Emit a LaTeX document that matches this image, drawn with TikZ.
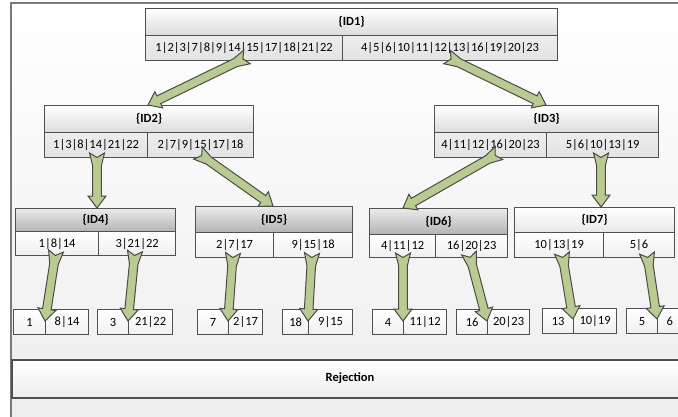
\documentclass[tikz,border=0pt]{standalone}
\usepackage{fontspec}
\setmainfont{Carlito}
\usetikzlibrary{calc}

\definecolor{boxline}{HTML}{505050}
\definecolor{frameline}{HTML}{7A7A7A}
\definecolor{arrowfill}{HTML}{B9CC8F}
\definecolor{arrowline}{HTML}{4A4A4A}

% block arrow with a flared, notched tail: #1 tail, #2 tip
\newcommand\blockarrow[2]{%
  \filldraw[blockarr]
    ($(#1)!4.5pt!(#2)$)
    -- ($(#1)!7.5pt!90:(#2)$)
    -- ($(#1)!13pt!(#2)!4.3pt!90:(#2)$)
    -- ($(#2)!12pt!(#1)!4.3pt!-90:(#1)$)
    -- ($(#2)!12pt!(#1)!9pt!-90:(#1)$)
    -- (#2)
    -- ($(#2)!12pt!(#1)!9pt!90:(#1)$)
    -- ($(#2)!12pt!(#1)!4.3pt!90:(#1)$)
    -- ($(#1)!13pt!(#2)!4.3pt!-90:(#2)$)
    -- ($(#1)!7.5pt!-90:(#2)$)
    -- cycle;}

\begin{document}
\begin{tikzpicture}[x=1pt,y=-1pt,
  font=\fontsize{12.5}{14}\selectfont,
  cell/.style={draw=boxline, line width=1.2pt, inner sep=0pt, anchor=north west},
  hdrlight/.style={cell, top color=white, bottom color=black!14, font=\fontsize{12.5}{14}\selectfont\bfseries},
  hdrdark/.style={cell, top color=black!8, bottom color=black!30, font=\fontsize{12.5}{14}\selectfont\bfseries},
  hdrwhite/.style={cell, top color=white, bottom color=black!9, font=\fontsize{12.5}{14}\selectfont\bfseries},
  rowgray/.style={cell, top color=black!7, bottom color=black!11},
  rowwhite/.style={cell, top color=white, bottom color=black!6},
  leaf/.style={cell, top color=white, bottom color=black!6, minimum height=25pt},
  blockarr/.style={fill=arrowfill, draw=arrowline, line width=1pt, line join=miter},
]
\useasboundingbox (0,0) rectangle (678,416);
\clip (0,0) rectangle (678,416);

% outer frame
\path[top color=white, bottom color=black!7, draw=frameline, line width=1.2pt]
  (11,3) rectangle (690,430);

% level 1
\node[hdrlight, minimum width=412pt, minimum height=27pt] (id1) at (145,8) {\{ID1\}};
\node[rowgray, minimum width=197pt, minimum height=25pt] (id1l) at (145,35) {1|2|3|7|8|9|14|15|17|18|21|22};
\node[rowgray, minimum width=215pt, minimum height=25pt] (id1r) at (342,35) {4|5|6|10|11|12|13|16|19|20|23};

% level 2
\node[hdrlight, minimum width=209pt, minimum height=27pt] (id2) at (44,105) {\{ID2\}};
\node[rowgray, minimum width=103pt, minimum height=25pt] (id2l) at (44,132) {1|3|8|14|21|22};
\node[rowgray, minimum width=106pt, minimum height=25pt] (id2r) at (147,132) {2|7|9|15|17|18};

\node[hdrlight, minimum width=224pt, minimum height=27pt] (id3) at (434,105) {\{ID3\}};
\node[rowgray, minimum width=112pt, minimum height=25pt] (id3l) at (434,132) {4|11|12|16|20|23};
\node[rowgray, minimum width=112pt, minimum height=25pt] (id3r) at (546,132) {5|6|10|13|19};

% level 3
\node[hdrdark, minimum width=160pt, minimum height=23pt] (id4) at (15,208) {\{ID4\}};
\node[rowwhite, minimum width=83pt, minimum height=24pt] (id4l) at (15,231) {1|8|14};
\node[rowwhite, minimum width=77pt, minimum height=24pt] (id4r) at (98,231) {3|21|22};

\node[hdrdark, minimum width=157pt, minimum height=26pt] (id5) at (195,206) {\{ID5\}};
\node[rowwhite, minimum width=78pt, minimum height=25pt] (id5l) at (195,232) {2|7|17};
\node[rowwhite, minimum width=79pt, minimum height=25pt] (id5r) at (273,232) {9|15|18};

\node[hdrdark, minimum width=138pt, minimum height=26pt] (id6) at (369,208) {\{ID6\}};
\node[rowwhite, minimum width=66pt, minimum height=23pt] (id6l) at (369,234) {4|11|12};
\node[rowwhite, minimum width=72pt, minimum height=23pt] (id6r) at (435,234) {16|20|23};

\node[hdrwhite, minimum width=160pt, minimum height=25pt] (id7) at (514,207) {\{ID7\}};
\node[rowwhite, minimum width=89pt, minimum height=25pt] (id7l) at (514,232) {10|13|19};
\node[rowwhite, minimum width=71pt, minimum height=25pt] (id7r) at (603,232) {5|6};

% leaves
\node[leaf, minimum width=32pt] (l1a) at (13,309) {1};
\node[leaf, minimum width=43pt] (l1b) at (45,309) {8|14};
\node[leaf, minimum width=31pt] (l2a) at (97,309) {3};
\node[leaf, minimum width=44pt] (l2b) at (128,309) {21|22};
\node[leaf, minimum width=31pt] (l3a) at (197,309) {7};
\node[leaf, minimum width=34pt] (l3b) at (228,309) {2|17};
\node[leaf, minimum width=26pt] (l4a) at (282,309) {18};
\node[leaf, minimum width=44pt] (l4b) at (308,309) {9|15};
\node[leaf, minimum width=31pt] (l5a) at (372,309) {4};
\node[leaf, minimum width=43pt] (l5b) at (403,309) {11|12};
\node[leaf, minimum width=31pt] (l6a) at (456,309) {16};
\node[leaf, minimum width=42pt] (l6b) at (487,309) {20|23};
\node[leaf, minimum width=31pt] (l7a) at (542,308) {13};
\node[leaf, minimum width=43pt] (l7b) at (573,308) {10|19};
\node[leaf, minimum width=31pt] (l8a) at (626,308) {5};
\node[leaf, minimum width=43pt, text width=43pt, align=left] (l8b) at (657,308) {\hspace*{9pt}6};

% rejection bar
\node[cell, top color=white, bottom color=black!7, line width=1.5pt,
      minimum width=700pt, minimum height=38pt] (rej) at (11,359) {};
\node[font=\fontsize{12.5}{14}\selectfont\bfseries] (rejtxt) at (350,378) {Rejection};

% arrow end points
\coordinate (t12) at (247,57);  \coordinate (h12) at (148,105);
\coordinate (t13) at (447,57);  \coordinate (h13) at (546,105);
\coordinate (t24) at (97,153);  \coordinate (h24) at (97,208);
\coordinate (t25) at (198,153); \coordinate (h25) at (273,206);
\coordinate (t36) at (499,153); \coordinate (h36) at (403,208);
\coordinate (t37) at (601,153); \coordinate (h37) at (601,207);
\coordinate (t4a) at (56,251);  \coordinate (h4a) at (45,321);
\coordinate (t4b) at (135,251); \coordinate (h4b) at (128,321);
\coordinate (t5a) at (233,253); \coordinate (h5a) at (228,321);
\coordinate (t5b) at (312,253); \coordinate (h5b) at (308,321);
\coordinate (t6a) at (403,253); \coordinate (h6a) at (403,321);
\coordinate (t6b) at (469,253); \coordinate (h6b) at (487,321);
\coordinate (t7a) at (562,253); \coordinate (h7a) at (573,319);
\coordinate (t7b) at (647,253); \coordinate (h7b) at (657,319);

\blockarrow{t12}{h12}
\blockarrow{t13}{h13}
\blockarrow{t24}{h24}
\blockarrow{t25}{h25}
\blockarrow{t36}{h36}
\blockarrow{t37}{h37}
\blockarrow{t4a}{h4a}
\blockarrow{t4b}{h4b}
\blockarrow{t5a}{h5a}
\blockarrow{t5b}{h5b}
\blockarrow{t6a}{h6a}
\blockarrow{t6b}{h6b}
\blockarrow{t7a}{h7a}
\blockarrow{t7b}{h7b}
\end{tikzpicture}
\end{document}
